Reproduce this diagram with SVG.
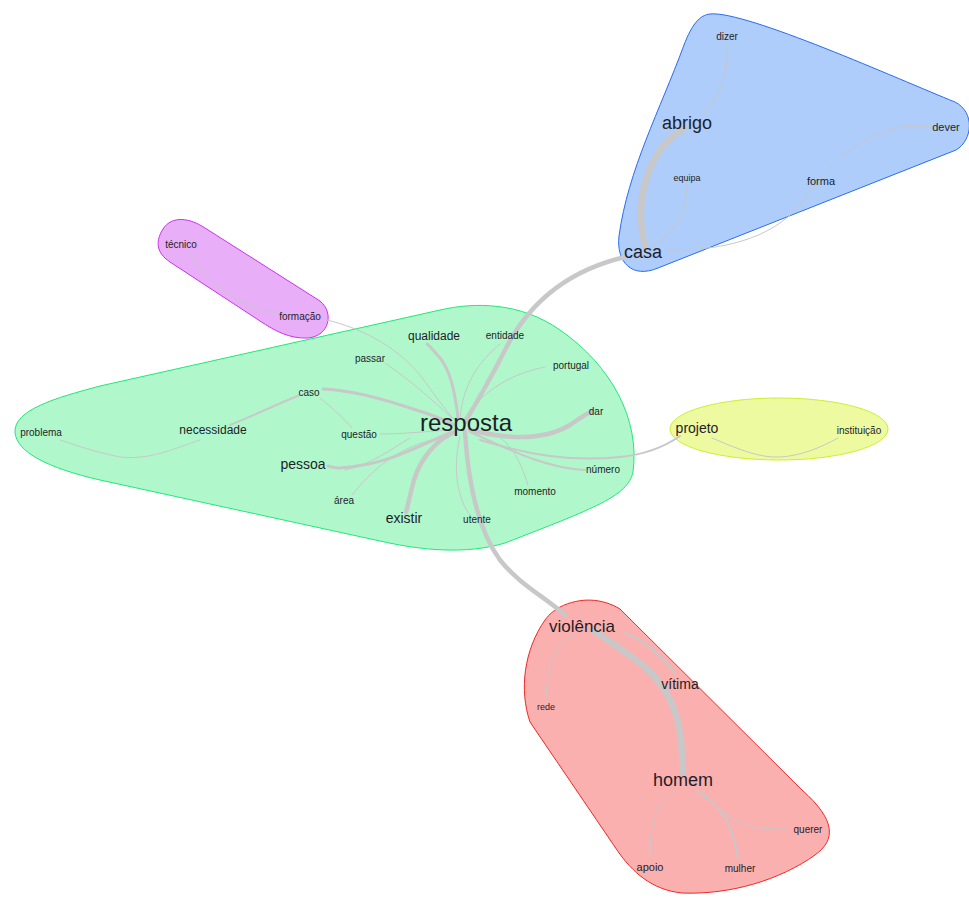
<svg xmlns="http://www.w3.org/2000/svg" width="969" height="898" viewBox="0 0 969 898">
  <style>
    .edge { fill: none; stroke: #c8c8c8; stroke-linecap: round; }
    .w1 { stroke-width: 1; }
    .w2 { stroke-width: 2; }
    .w3 { stroke-width: 3; }
    .w4 { stroke-width: 4.5; }
    .w6 { stroke-width: 6.5; }
    text { font-family: "Liberation Sans", Arial, sans-serif; fill: #1e1e28; text-anchor: middle; dominant-baseline: middle; }
    .hull { stroke-width: 1; }
  </style>
  <rect width="969" height="898" fill="#ffffff"/>

  <!-- cluster hulls -->
  <g id="hulls">
    <path class="hull" fill="#aecdfb" stroke="#2a6cf0" d="M 710 14 C 745 10, 900 80, 955 102 C 975 112, 973 140, 956 150 L 658 268 C 632 279, 616 262, 619 236 C 628 170, 660 110, 684 45 C 692 24, 700 15, 710 14 Z"/>
    <path class="hull" fill="#e8aef8" stroke="#d030f0" d="M 163 229 C 172 215, 190 218, 205 228 L 320 301 C 334 312, 330 336, 308 338 C 290 339, 275 331, 260 321 L 170 262 C 155 252, 156 240, 163 229 Z"/>
    <path class="hull" fill="#b0f8cc" stroke="#20e878" d="M 15 432 C 14 410, 55 398, 100 386 L 440 310 C 475 302, 520 302, 560 330 C 612 366, 640 420, 633 472 C 628 496, 595 508, 505 543 C 465 555, 420 550, 380 541 L 100 480 C 48 468, 16 452, 15 432 Z"/>
    <ellipse class="hull" cx="779" cy="429" rx="109" ry="31" fill="#eefaa0" stroke="#ccf030"/>
    <path class="hull" fill="#fbb0b0" stroke="#f02828" d="M 560 607 C 580 597, 602 598, 620 609 L 802 790 C 836 820, 836 840, 815 855 C 780 880, 730 895, 682 893 C 652 890, 632 872, 617 850 L 530 722 C 519 690, 524 650, 545 620 C 550 613, 555 610, 560 607 Z"/>
  </g>

  <!-- connectors -->
  <g id="connectors">
    <!-- casa cluster -->
    <path class="edge w6" d="M 645 247 C 637 215, 640 180, 660 150 C 668 140, 676 133, 685 128"/>
    <path class="edge w1" d="M 727 44 C 728 70, 726 90, 700 118"/>
    <path class="edge w1" d="M 687 185 C 686 205, 685 225, 650 248"/>
    <path class="edge w1" d="M 666 250 C 720 251, 770 240, 800 205 C 830 165, 850 140, 900 127 C 915 126, 925 126, 935 127"/>
    <path class="edge w4" d="M 625 257 C 570 270, 530 300, 505 350 C 490 380, 478 400, 465 422"/>
    <!-- técnico / formação -->
    <path class="edge w1" d="M 189 251 C 205 280, 230 300, 262 309 C 275 313, 288 315, 300 316"/>
    <path class="edge w1" d="M 327 320 C 360 328, 395 345, 420 375 C 435 395, 445 410, 455 420"/>
    <!-- resposta hub -->
    <path class="edge w3" d="M 458 418 C 455 390, 450 370, 440 358 C 433 350, 430 346, 427 344"/>
    <path class="edge w1" d="M 460 418 C 463 385, 478 362, 500 344"/>
    <path class="edge w1" d="M 465 418 C 480 395, 505 375, 545 367"/>
    <path class="edge w4" d="M 470 430 C 510 440, 545 440, 570 425 C 580 418, 586 414, 592 411"/>
    <path class="edge w2" d="M 470 432 C 510 450, 545 468, 585 470"/>
    <path class="edge w1" d="M 490 432 C 510 440, 520 460, 528 485"/>
    <path class="edge w1" d="M 460 436 C 452 470, 458 500, 470 515"/>
    <path class="edge w4" d="M 455 432 C 435 440, 420 460, 414 480 C 410 495, 408 505, 406 512"/>
    <path class="edge w3" d="M 452 432 C 410 450, 385 465, 340 468 C 335 468, 332 467, 328 466"/>
    <path class="edge w1" d="M 450 435 C 405 445, 380 460, 352 495"/>
    <path class="edge w1" d="M 450 430 C 420 432, 400 434, 380 434"/>
    <path class="edge w3" d="M 323 389 C 350 390, 380 398, 410 408 C 430 414, 445 420, 455 425"/>
    <path class="edge w1" d="M 385 363 C 410 380, 430 398, 452 418"/>
    <path class="edge w1" d="M 320 398 C 335 410, 345 420, 352 428"/>
    <path class="edge w2" d="M 300 395 C 275 405, 255 415, 230 425"/>
    <path class="edge w1" d="M 200 440 C 170 450, 150 460, 120 457 C 95 452, 75 445, 60 440"/>
    <path class="edge w1" d="M 410 438 C 390 450, 370 465, 345 470"/>
    <!-- projeto -->
    <path class="edge w2" d="M 480 440 C 530 455, 570 462, 620 457 C 650 454, 670 443, 680 436"/>
    <path class="edge w1" d="M 712 438 C 740 450, 760 458, 780 457 C 800 456, 820 448, 838 438"/>
    <!-- violência cluster -->
    <path class="edge w4" d="M 465 432 C 468 480, 478 530, 500 560 C 520 585, 545 597, 565 615"/>
    <path class="edge w6" d="M 593 630 C 615 645, 630 655, 645 667 C 665 685, 678 710, 681 740 C 682 755, 683 765, 683 772"/>
    <path class="edge w2" d="M 625 633 C 645 640, 660 655, 675 673"/>
    <path class="edge w1" d="M 575 634 C 555 645, 547 660, 546 700"/>
    <path class="edge w1" d="M 674 791 C 655 805, 650 820, 650 858"/>
    <path class="edge w2" d="M 697 791 C 720 805, 732 820, 738 858"/>
    <path class="edge w1" d="M 703 793 C 720 810, 735 825, 760 828 C 770 829, 778 829, 787 829"/>
  </g>

  <!-- nodes -->
  <g id="node-dizer"><text x="727" y="37" font-size="10">dizer</text></g>
  <g id="node-abrigo"><text x="687" y="124" font-size="18">abrigo</text></g>
  <g id="node-dever"><text x="946" y="128" font-size="11">dever</text></g>
  <g id="node-equipa"><text x="687" y="179" font-size="9">equipa</text></g>
  <g id="node-forma"><text x="821" y="182" font-size="11">forma</text></g>
  <g id="node-casa"><text x="643" y="253" font-size="18">casa</text></g>

  <g id="node-tecnico"><text x="181" y="245" font-size="10">técnico</text></g>
  <g id="node-formacao"><text x="300" y="317" font-size="10">formação</text></g>

  <g id="node-qualidade"><text x="434" y="337" font-size="12">qualidade</text></g>
  <g id="node-entidade"><text x="505" y="336" font-size="10">entidade</text></g>
  <g id="node-passar"><text x="370" y="359" font-size="10">passar</text></g>
  <g id="node-portugal"><text x="571" y="366" font-size="10">portugal</text></g>
  <g id="node-caso"><text x="309" y="393" font-size="10">caso</text></g>
  <g id="node-resposta"><text x="466" y="425" font-size="24">resposta</text></g>
  <g id="node-dar"><text x="596" y="412" font-size="10">dar</text></g>
  <g id="node-problema"><text x="41" y="433" font-size="10">problema</text></g>
  <g id="node-necessidade"><text x="213" y="431" font-size="12">necessidade</text></g>
  <g id="node-questao"><text x="359" y="435" font-size="10">questão</text></g>
  <g id="node-pessoa"><text x="303" y="465" font-size="14">pessoa</text></g>
  <g id="node-numero"><text x="603" y="470" font-size="10">número</text></g>
  <g id="node-momento"><text x="535" y="492" font-size="10">momento</text></g>
  <g id="node-area"><text x="344" y="501" font-size="10">área</text></g>
  <g id="node-existir"><text x="404" y="519" font-size="14">existir</text></g>
  <g id="node-utente"><text x="477" y="520" font-size="10">utente</text></g>

  <g id="node-projeto"><text x="697" y="429" font-size="14">projeto</text></g>
  <g id="node-instituicao"><text x="859" y="431" font-size="10">instituição</text></g>

  <g id="node-violencia"><text x="582" y="628" font-size="17">violência</text></g>
  <g id="node-vitima"><text x="680" y="685" font-size="14">vítima</text></g>
  <g id="node-rede"><text x="546" y="708" font-size="9">rede</text></g>
  <g id="node-homem"><text x="683" y="781" font-size="18">homem</text></g>
  <g id="node-querer"><text x="808" y="830" font-size="10">querer</text></g>
  <g id="node-apoio"><text x="650" y="868" font-size="11">apoio</text></g>
  <g id="node-mulher"><text x="740" y="869" font-size="10">mulher</text></g>
</svg>
